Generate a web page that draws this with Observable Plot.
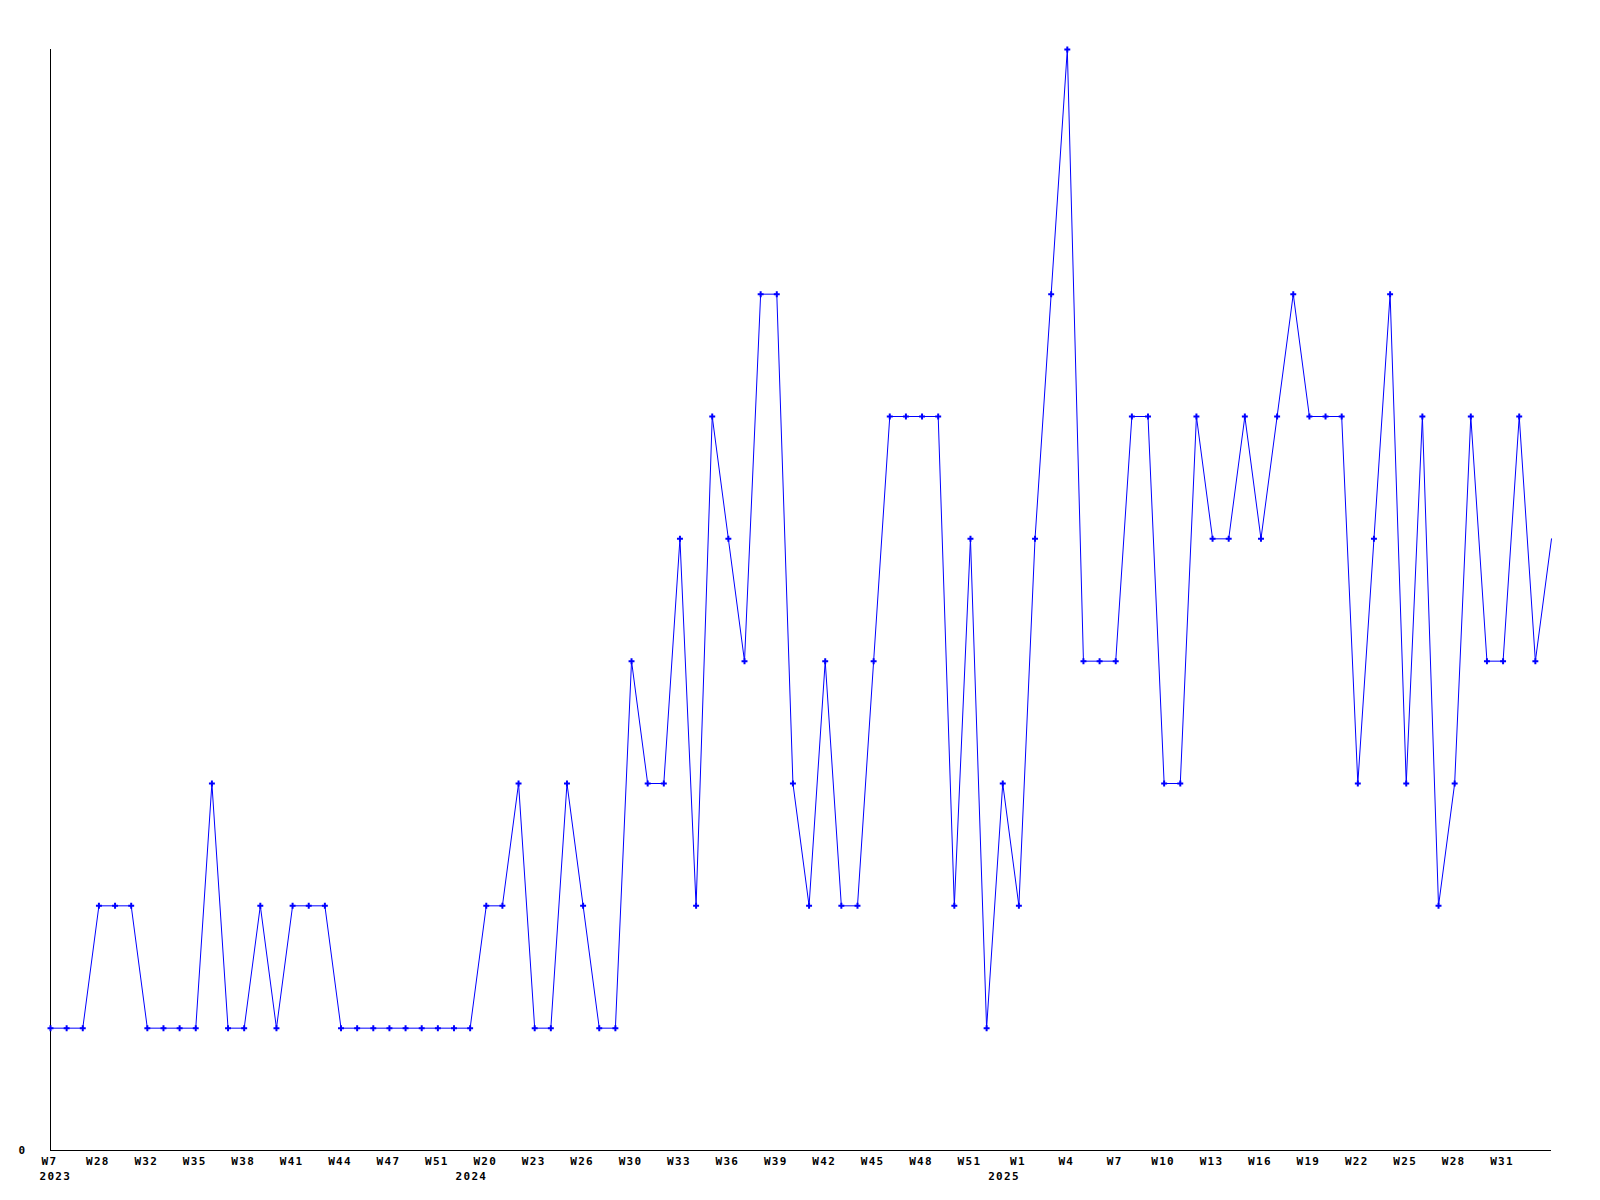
<!DOCTYPE html>
<html>
<head>
<meta charset="utf-8">
<script src="https://cdn.jsdelivr.net/npm/d3@7"></script>
<script src="https://cdn.jsdelivr.net/npm/@observablehq/plot@0.6"></script>
<style>
  html, body { margin: 0; padding: 0; background: #fff; }
  #chart svg { display: block; }
</style>
</head>
<body>
<div id="chart"></div>
<script>
// Year of each weekly sample
const years = [
  2023,2023,2023,2023,2023,2023,2023,2023,2023,2023,2023,2023,2023,2023,2023,2023,2023,2023,2023,2023,2023,2023,2023,2023,2023,2023,
  2024,2024,2024,2024,2024,2024,2024,2024,2024,2024,2024,2024,2024,2024,2024,2024,2024,2024,2024,2024,2024,2024,2024,2024,2024,2024,2024,2024,2024,2024,2024,2024,2024,2024,
  2025,2025,2025,2025,2025,2025,2025,2025,2025,2025,2025,2025,2025,2025,2025,2025,2025,2025,2025,2025,2025,2025,2025,2025,2025,2025,2025,2025,2025,2025,2025,2025,2025,2025
];
// Week label of each sample (categories)
const weeks = [
  "W7","W26","W27","W28","W29","W30","W32","W33","W34","W35","W36","W37","W38","W39","W40","W41","W42","W43","W44","W45","W46","W47","W49","W50","W51","W52",
  "W19","W20","W21","W22","W23","W24","W25","W26","W28","W29","W30","W31","W32","W33","W34","W35","W36","W37","W38","W39","W40","W41","W42","W43","W44","W45","W46","W47","W48","W49","W50","W51","W52","W53",
  "W1","W2","W3","W4","W5","W6","W7","W8","W9","W10","W11","W12","W13","W14","W15","W16","W17","W18","W19","W20","W21","W22","W23","W24","W25","W26","W27","W28","W29","W30","W31","W32","W33","W34"
];
// Series values
const values = [
  1,1,1,2,2,2,1,1,1,1,
  3,1,1,2,1,2,2,2,1,1,
  1,1,1,1,1,1,1,2,2,3,
  1,1,3,2,1,1,4,3,3,5,
  2,6,5,4,7,7,3,2,4,2,
  2,4,6,6,6,6,2,5,1,3,
  2,5,7,9,4,4,4,6,6,3,
  3,6,5,5,6,5,6,7,6,6,
  6,3,5,7,3,6,2,3,6,4,
  4,6,4,5
];
// Y tick labels
const yTicks = [0];

const data = values.map((v, i) => ({key: years[i] + "-" + weeks[i], week: weeks[i], year: years[i], value: v}));
const keys = data.map(d => d.key);
const weekOf = Object.fromEntries(data.map(d => [d.key, d.week]));
const tickData = data.filter((d, i) => i % 3 === 0 && i < data.length - 1);
const tickKeys = tickData.map(d => d.key);
const yearTicks = tickData.filter((d, i) => i === 0 || d.year !== tickData[i - 1].year);

const font = {fontFamily: "'DejaVu Sans Mono', monospace", fontSize: 11, fontWeight: "bold", fill: "#000"};

const chart = Plot.plot({
  width: 1600,
  height: 1200,
  marginLeft: 50,
  marginRight: 49,
  marginTop: 49,
  marginBottom: 50,
  style: {fontFamily: "'DejaVu Sans Mono', monospace", fontSize: "11px", fontWeight: "bold", letterSpacing: "1.3px", color: "#000", background: "#fff"},
  x: {type: "point", domain: keys, padding: 0, round: false, label: null},
  y: {domain: [0, 9], label: null},
  marks: [
    Plot.axisX({ticks: tickKeys, tickSize: 0, tickPadding: 7, dx: -1, tickFormat: k => weekOf[k], fontWeight: "bold", label: null}),
    Plot.axisY({ticks: yTicks, tickSize: 0, tickPadding: 24, fontWeight: "bold", label: null}),
    Plot.text(yearTicks.slice(0, 1), {x: "key", text: d => String(d.year), frameAnchor: "bottom", lineAnchor: "top", textAnchor: "start", dx: -11, dy: 22, ...font}),
    Plot.text(yearTicks.slice(1), {x: "key", text: d => String(d.year), frameAnchor: "bottom", lineAnchor: "top", textAnchor: "end", dx: 1, dy: 22, ...font}),
    Plot.ruleY([0], {stroke: "#000", strokeWidth: 1}),
    Plot.ruleX([keys[0]], {stroke: "#000", strokeWidth: 1}),
    Plot.line(data, {x: "key", y: "value", stroke: "#0000ff", strokeWidth: 1}),
    Plot.dot(data.slice(0, -1), {x: "key", y: "value", symbol: "cross", r: 2.5, fill: "#0000ff", stroke: "none"})
  ]
});
document.getElementById("chart").appendChild(chart);
</script>
</body>
</html>
